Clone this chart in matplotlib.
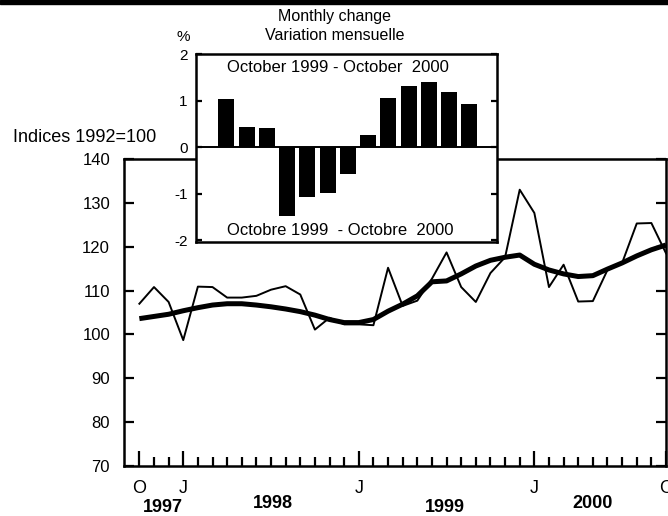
#!/usr/bin/env python3
"""
Index 1992=100, Oct 1997 - Oct 2000, with monthly change inset.
"""
import matplotlib
matplotlib.use("Agg")
import matplotlib.pyplot as plt
from matplotlib import transforms
from matplotlib.patches import Rectangle

# monthly index, October 1997 .. October 2000
index_values = [107.0, 110.8, 107.4, 98.7, 110.9, 110.8, 108.4, 108.4, 108.8, 110.2,
                111.0, 109.1, 101.1, 103.8, 102.3, 102.3, 102.1, 115.2, 106.5, 107.7,
                112.7, 118.7, 110.8, 107.4, 114.0, 117.6, 133.0, 127.7, 110.8, 115.9,
                107.5, 107.6, 114.7, 116.3, 125.3, 125.4, 118.5]
trend_values = [103.6, 104.1, 104.6, 105.4, 106.1, 106.7, 107.0, 107.0, 106.7, 106.3,
                105.8, 105.2, 104.4, 103.4, 102.7, 102.7, 103.4, 105.3, 106.9, 108.8,
                112.0, 112.2, 113.8, 115.6, 116.9, 117.6, 118.1, 116.0, 114.7, 113.8,
                113.2, 113.4, 114.9, 116.3, 117.9, 119.3, 120.4]
months = list(range(len(index_values)))

x_tick_pos = [0, 3, 15, 27, 36]
x_tick_labels = ['O', 'J', 'J', 'J', 'O']
year_labels = ['1997', '1998', '1999', '2000']
year_pos = [1.6, 9.1, 20.9, 31.0]

# monthly change (%), October 1999 .. October 2000
change_values = [1.04, 0.43, 0.42, -1.49, -1.07, -0.99, -0.57, 0.26, 1.06, 1.31,
                 1.39, 1.19, 0.92]
change_pos = list(range(len(change_values)))

plt.rcParams['font.family'] = ['Liberation Sans', 'DejaVu Sans']
plt.rcParams['axes.unicode_minus'] = False

W, H = 668, 516
fig = plt.figure(figsize=(W / 100, H / 100), dpi=100)

# black rule at the very top
fig.patches.append(Rectangle((0, 1 - 4 / H), 1, 4 / H, transform=fig.transFigure,
                             color='black', zorder=10))

# ---- main chart
ax = fig.add_axes([124 / W, 50 / H, 542 / W, 307 / H])
ax.plot(months, index_values, color='black', lw=1.4, zorder=3)
ax.plot(months, trend_values, color='black', lw=3.6, solid_capstyle='butt', zorder=2)
ax.set_xlim(-1.05, 36)
ax.set_ylim(70, 140)
ax.set_yticks(range(70, 141, 10))
for s in ax.spines.values():
    s.set_linewidth(1.8)
ax.tick_params(axis='y', direction='in', length=7, width=1.6, right=True,
               labelsize=12, pad=10)
ax.set_xticks(x_tick_pos)
ax.set_xticklabels(x_tick_labels)
ax.set_xticks(months, minor=True)
ax.tick_params(axis='x', which='major', direction='in', length=10.5, width=1.6,
               labelsize=13, pad=10)
ax.tick_params(axis='x', which='minor', direction='in', length=6.2, width=1.6)
ax.get_xticklabels()[-1].set_clip_on(False)

trans = transforms.blended_transform_factory(ax.transData, fig.transFigure)
year_y = [9, 13, 8, 13]
for lab, xp, yp in zip(year_labels, year_pos, year_y):
    ax.text(xp, yp / H, lab, transform=trans, ha='center', va='center',
            fontsize=13, fontweight='bold')

fig.text(13 / W, 1 - 138 / H, 'Indices 1992=100', ha='left', va='center', fontsize=13)

# ---- inset: monthly change
ins = fig.add_axes([196 / W, 274 / H, 301 / W, 188 / H])
ins.set_facecolor('white')
ins.bar(change_pos, change_values, width=0.79, color='black')
ins.axhline(0, color='black', lw=1.4)
ins.set_xlim(-1.5, 13.37)
ins.set_ylim(-2.04, 2.0)
ins.set_xticks([])
ins.set_yticks([-2, -1, 0, 1, 2])
ins.tick_params(axis='y', direction='in', length=4, width=1.6, right=True,
                labelsize=11, pad=6)
for s in ins.spines.values():
    s.set_linewidth(1.8)
ins.text(0.47, 0.93, 'October 1999 - October  2000', transform=ins.transAxes,
         ha='center', va='center', fontsize=12)
ins.text(0.48, 0.06, 'Octobre 1999  - Octobre  2000', transform=ins.transAxes,
         ha='center', va='center', fontsize=12)

fig.text(335 / W, 1 - 16 / H, 'Monthly change', ha='center', va='center', fontsize=11.5)
fig.text(335 / W, 1 - 36 / H, 'Variation mensuelle', ha='center', va='center', fontsize=11.5)
fig.text(183 / W, 1 - 37 / H, '%', ha='center', va='center', fontsize=11)

fig.savefig('out.png', dpi=100)
